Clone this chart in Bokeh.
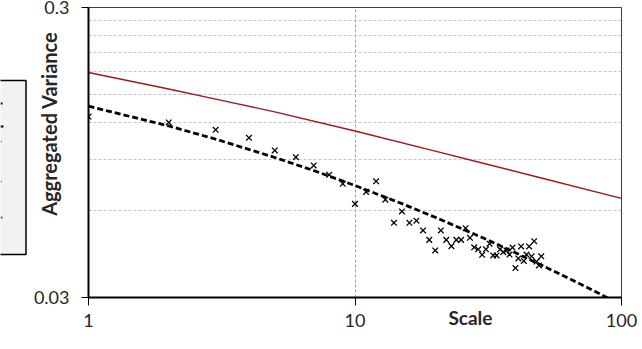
from bokeh.plotting import figure
from bokeh.layouts import row
from bokeh.models import FixedTicker, CustomJSTickFormatter
from bokeh.embed import file_html
from bokeh.resources import INLINE

# ---- data ----
scale = list(range(1, 51))
agg_var = [0.1262, 0.1204, 0.1136, 0.1066, 0.0964, 0.0914, 0.0856, 0.0795, 0.0740, 0.0631,
           0.0694, 0.0755, 0.0652, 0.0543, 0.0594, 0.0543, 0.0552, 0.0511, 0.0474, 0.0436,
           0.0511, 0.0474, 0.0451, 0.0474, 0.0474, 0.0520, 0.0482, 0.0447, 0.0440, 0.0421,
           0.0440, 0.0460, 0.0419, 0.0419, 0.0440, 0.0430, 0.0436, 0.0422, 0.0446, 0.0379,
           0.0409, 0.0450, 0.0401, 0.0422, 0.0450, 0.0416, 0.0469, 0.0399, 0.0387, 0.0416]

fit_x = [1, 2, 3, 5, 7, 10, 15, 20, 30, 40, 50, 60, 70, 80, 90, 100]
fit_y = [0.137, 0.1171, 0.1055, 0.0912, 0.0822, 0.0730, 0.0632, 0.0567, 0.0483, 0.0428,
         0.0388, 0.0358, 0.0334, 0.0314, 0.0297, 0.0282]

model_x = [1, 2, 3, 5, 10, 20, 30, 50, 100]
model_y = [0.179, 0.157, 0.145, 0.131, 0.1125, 0.0959, 0.0873, 0.0775, 0.0659]

x_ticks = [1, 10, 100]
y_ticks = [0.03, 0.3]
y_grid_values = [0.06, 0.09, 0.12, 0.15, 0.18, 0.21, 0.24, 0.27]
x_grid_values = [10]

x_title = "Scale"
y_title = "Aggregated Variance"

FONT = "Lato"
NB = "\u00a0"

# ---- strip on the left: the edge of a legend box that is cut off by the picture ----
# (its frame is aligned with the main chart's frame, which spans page rows 7..297)
side = figure(width=27, height=349, x_range=(0, 27), y_range=(297, 7),
              output_backend="svg", toolbar_location=None,
              x_axis_location=None, y_axis_location=None,
              min_border_left=0, min_border_right=0, min_border_top=7, min_border_bottom=52)
side.outline_line_color = None
side.grid.visible = False
side.background_fill_color = "white"
side.border_fill_color = "white"
side.quad(left=-10, right=25.5, top=80, bottom=254, fill_color="#f2f2f2",
          line_color="black", line_width=1.5)
side.segment(x0=[0, 0, 0, 0, 0], y0=[103, 126, 141, 181, 217],
             x1=[2, 3, 1.5, 1.5, 2], y1=[103, 126, 141, 181, 217],
             line_color=["black", "black", "#9a9a9a", "#9a9a9a", "#e02020"], line_width=2)

# ---- main chart ----
p = figure(width=615, height=349, x_axis_type="log", y_axis_type="log",
           x_range=(1, 100), y_range=(0.03, 0.3),
           output_backend="svg", toolbar_location=None,
           min_border_left=61, min_border_right=21, min_border_top=7, min_border_bottom=52)
p.background_fill_color = "white"
p.border_fill_color = "white"
p.outline_line_color = "#404040"
p.outline_line_width = 1

fmt = CustomJSTickFormatter(code="return tick.toString();")
p.xaxis.ticker = FixedTicker(ticks=x_ticks)
p.yaxis.ticker = FixedTicker(ticks=y_ticks)
p.xaxis.formatter = fmt
p.yaxis.formatter = fmt
for ax in (p.xaxis[0], p.yaxis[0]):
    ax.axis_line_color = "black"
    ax.axis_line_width = 2
    ax.major_tick_line_color = "black"
    ax.major_tick_line_width = 1
    ax.major_tick_in = 0
    ax.minor_tick_line_color = None
    ax.major_label_text_font = FONT
    ax.major_label_text_font_size = "18px"
    ax.major_label_text_color = "#262626"
    ax.axis_label_text_font = FONT
    ax.axis_label_text_font_style = "bold"
    ax.axis_label_text_color = "#262626"
p.xaxis.major_tick_out = 8
p.yaxis.major_tick_out = 7
p.xaxis.major_label_standoff = 8
p.yaxis.major_label_standoff = 12

# axis titles, shifted along the axis with leading no-break spaces
p.yaxis.axis_label = NB * 12 + y_title
p.yaxis.axis_label_text_font_size = "20px"
p.yaxis.axis_label_standoff = -30
p.xaxis.axis_label = NB * 50 + x_title
p.xaxis.axis_label_text_font_size = "19px"
p.xaxis.axis_label_standoff = -24

p.ygrid.ticker = FixedTicker(ticks=y_grid_values)
p.xgrid.ticker = FixedTicker(ticks=x_grid_values)
p.ygrid.grid_line_color = "#c4c4c4"
p.ygrid.grid_line_dash = "3 2"
p.ygrid.grid_line_width = 1
p.xgrid.grid_line_color = "#9a9a9a"
p.xgrid.grid_line_dash = "3 2"
p.xgrid.grid_line_width = 1

p.line(model_x, model_y, line_color="#9e1a1a", line_width=1.4)
p.line(fit_x, fit_y, line_color="black", line_width=2.8, line_dash="6 3")
p.scatter(scale, agg_var, marker="x", size=8, line_color="black", line_width=1.3)

layout = row(side, p)
open("out.html", "w").write(file_html(layout, INLINE))
